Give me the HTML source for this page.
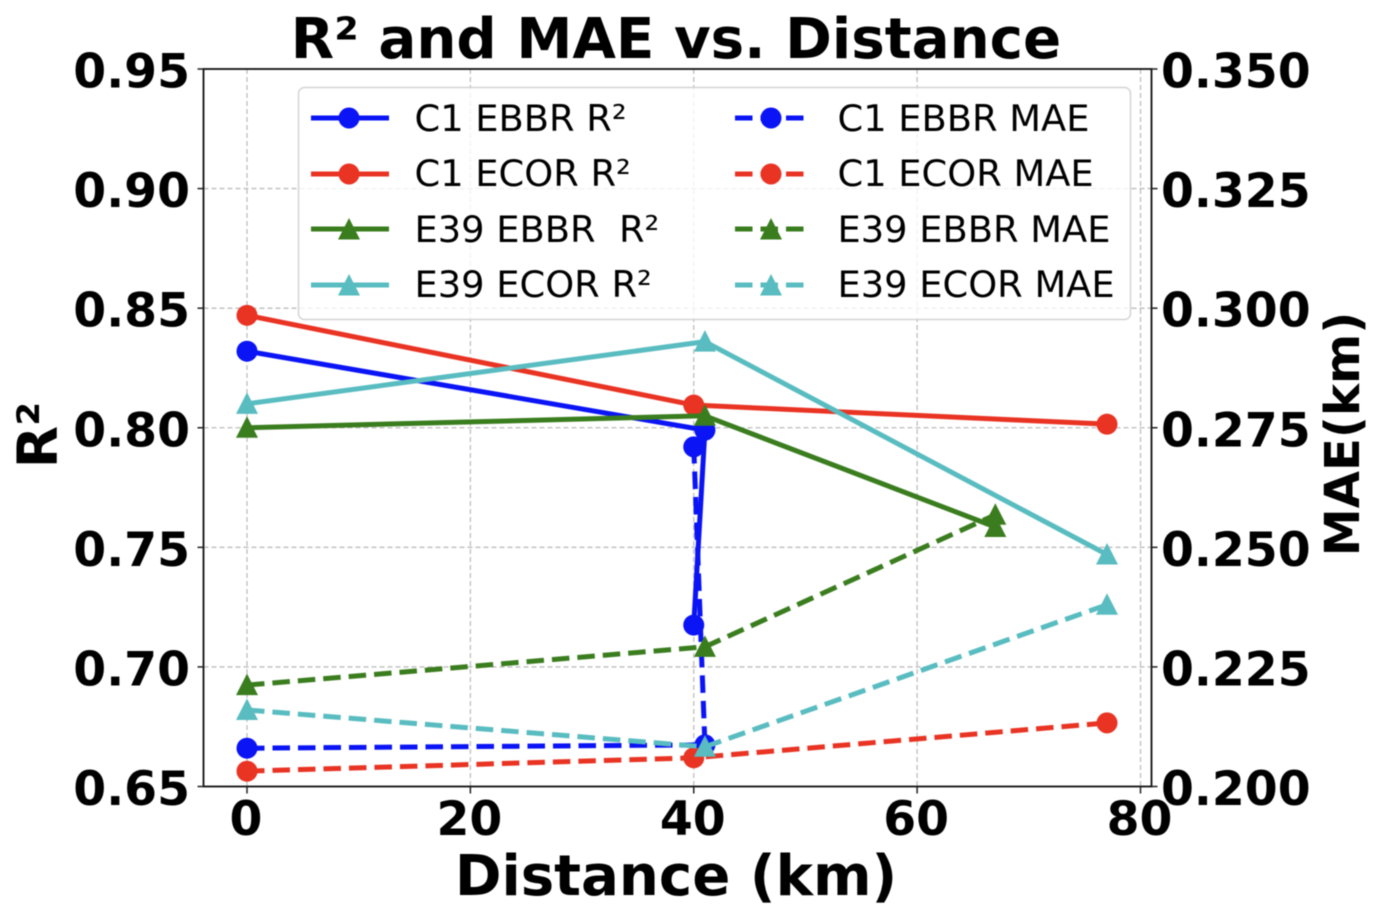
<!DOCTYPE html>
<html lang="en">
<head>
<meta charset="utf-8">
<title>R² and MAE vs. Distance</title>
<style>
html,body{margin:0;padding:0;background:#fff;width:1381px;height:919px;overflow:hidden}
svg{display:block;filter:blur(0.6px)}
text{font-family:"DejaVu Sans","Liberation Sans",sans-serif;fill:#000}
.b{font-weight:bold}
.lg{font-size:36.8px}
</style>
</head>
<body>
<svg id="chart" xmlns="http://www.w3.org/2000/svg" width="1381" height="919" viewBox="0 0 1381 919">
  <g id="grid"></g>
  <g id="marks"></g>
  <rect x="203.5" y="69" width="948" height="717.5" fill="none" stroke="#111" stroke-width="1.8"/>
  <g id="ticks"></g>
  <text class="b" x="676" y="58" font-size="56.3" text-anchor="middle">R² and MAE vs. Distance</text>
  <text class="b" x="676" y="895" font-size="56.2" text-anchor="middle">Distance (km)</text>
  <text class="b" transform="translate(57,435) rotate(-90)" font-size="55" text-anchor="middle">R²</text>
  <text class="b" transform="translate(1359,434) rotate(-90)" font-size="48.2" text-anchor="middle">MAE(km)</text>

  <g id="legend">
    <rect x="298.5" y="87.5" width="832" height="232" rx="6" fill="#fff" fill-opacity="0.8" stroke="#d4d4d4" stroke-width="1.5"/>
    <g>
      <line x1="311" x2="389" y1="118" y2="118" stroke="#0a14f5" stroke-width="5"/><circle cx="349" cy="118" r="10.5" fill="#0a14f5"/>
      <text class="lg" x="414.500" y="131">C1 EBBR R²</text>
    </g>
    <g>
      <line x1="311" x2="389" y1="174" y2="174" stroke="#e93323" stroke-width="5"/><circle cx="349" cy="174" r="10.5" fill="#e93323"/>
      <text class="lg" x="414.500" y="186">C1 ECOR R²</text>
    </g>
    <g>
      <line x1="311" x2="389" y1="229" y2="229" stroke="#3a7d1e" stroke-width="5"/><path d="M349 218L360 239.500H338Z" fill="#3a7d1e"/>
      <text class="lg" x="414.500" y="242" xml:space="preserve">E39 EBBR  R²</text>
    </g>
    <g>
      <line x1="311" x2="389" y1="285" y2="285" stroke="#58bcc0" stroke-width="5"/><path d="M349 274L360 295.500H338Z" fill="#58bcc0"/>
      <text class="lg" x="414.500" y="297">E39 ECOR R²</text>
    </g>
    <g>
      <line x1="735" x2="806" y1="118" y2="118" stroke="#0a14f5" stroke-width="5" stroke-dasharray="17.500 8"/><circle cx="771" cy="118" r="10.5" fill="#0a14f5"/>
      <text class="lg" x="837.500" y="131">C1 EBBR MAE</text>
    </g>
    <g>
      <line x1="735" x2="806" y1="174" y2="174" stroke="#e93323" stroke-width="5" stroke-dasharray="17.500 8"/><circle cx="771" cy="174" r="10.5" fill="#e93323"/>
      <text class="lg" x="837.500" y="186">C1 ECOR MAE</text>
    </g>
    <g>
      <line x1="735" x2="806" y1="229" y2="229" stroke="#3a7d1e" stroke-width="5" stroke-dasharray="17.500 8"/><path d="M771 218L782 239.500H760Z" fill="#3a7d1e"/>
      <text class="lg" x="837.500" y="242">E39 EBBR MAE</text>
    </g>
    <g>
      <line x1="735" x2="806" y1="285" y2="285" stroke="#58bcc0" stroke-width="5" stroke-dasharray="17.500 8"/><path d="M771 274L782 295.500H760Z" fill="#58bcc0"/>
      <text class="lg" x="837.500" y="297">E39 ECOR MAE</text>
    </g>
  </g>
</svg>
<script>
// Tick labels
const xTicks = [0, 20, 40, 60, 80];
const yLeftTicks = ['0.65', '0.70', '0.75', '0.80', '0.85', '0.90', '0.95'];
const yRightTicks = ['0.200', '0.225', '0.250', '0.275', '0.300', '0.325', '0.350'];

// Series: distance values
const c1EbbrDist = [0, 41, 40];
const c1EcorDist = [0, 40, 77];
const e39EbbrDist = [0, 41, 67];
const e39EcorDist = [0, 41, 77];

// Series: R² values
const c1EbbrR2 = [0.832, 0.799, 0.7175];
const c1EcorR2 = [0.847, 0.8095, 0.8015];
const e39EbbrR2 = [0.800, 0.805, 0.7585];
const e39EcorR2 = [0.810, 0.836, 0.747];

// Series: MAE values
const c1EbbrMae = [0.2080, 0.2087, 0.2710];
const c1EcorMae = [0.2032, 0.2060, 0.2133];
const e39EbbrMae = [0.2212, 0.2292, 0.2568];
const e39EcorMae = [0.2160, 0.2083, 0.2380];

const NS = 'http://www.w3.org/2000/svg';
const PLOT = { left: 203.5, right: 1151.5, top: 69, bottom: 786.5 };

function xScale(v) { return 247 + (v / 80) * (1140.5 - 247); }
function yLeft(v) { return PLOT.bottom - ((v - 0.65) / 0.30) * (PLOT.bottom - PLOT.top); }
function yRight(v) { return PLOT.bottom - ((v - 0.20) / 0.15) * (PLOT.bottom - PLOT.top); }

function make(tag, attrs, parent) {
  const el = document.createElementNS(NS, tag);
  for (const k in attrs) el.setAttribute(k, attrs[k]);
  parent.appendChild(el);
  return el;
}

const gridG = document.getElementById('grid');
const ticksG = document.getElementById('ticks');
const marksG = document.getElementById('marks');

xTicks.forEach(function (t) {
  const x = xScale(t);
  const g = make('line', { x1: x, x2: x, y1: PLOT.top, y2: PLOT.bottom, stroke: '#bdbdbd', 'stroke-width': 1.3, 'stroke-dasharray': '5 3' }, gridG);
  
  
  const tk = make('line', { x1: x, x2: x, y1: PLOT.bottom, y2: PLOT.bottom + 7, stroke: '#222', 'stroke-width': 1.5 }, ticksG);
  
  
  const lb = make('text', { x: x - 1, y: 835, 'font-size': 47.3, 'font-weight': 'bold', 'text-anchor': 'middle' }, ticksG);
  
  
  lb.textContent = t;
});

yLeftTicks.forEach(function (t) {
  const y = yLeft(parseFloat(t));
  const g = make('line', { x1: PLOT.left, x2: PLOT.right, y1: y, y2: y, stroke: '#bdbdbd', 'stroke-width': 1.3, 'stroke-dasharray': '5 3' }, gridG);
  
  
  const tk = make('line', { x1: PLOT.left - 6, x2: PLOT.left, y1: y, y2: y, stroke: '#222', 'stroke-width': 1.5 }, ticksG);
  
  
  const lb = make('text', { x: 190, y: y + 18.5, 'font-size': 47.3, 'font-weight': 'bold', 'text-anchor': 'end' }, ticksG);
  
  
  lb.textContent = t;
});

yRightTicks.forEach(function (t) {
  const y = yRight(parseFloat(t));
  const tk = make('line', { x1: PLOT.right, x2: PLOT.right + 6, y1: y, y2: y, stroke: '#222', 'stroke-width': 1.5 }, ticksG);
  
  
  const lb = make('text', { x: 1161, y: y + 18.5, 'font-size': 47.3, 'font-weight': 'bold', 'text-anchor': 'start' }, ticksG);
  
  
  lb.textContent = t;
});

function drawSeries(name, dist, vals, yFn, color, marker, dashed) {
  const g = make('g', {}, marksG);
  
  
  const pts = dist.map(function (d, i) { return [xScale(d), yFn(vals[i])]; });
  const attrs = {
    points: pts.map(function (p) { return p.join(','); }).join(' '),
    fill: 'none', stroke: color, 'stroke-width': 5, 'stroke-linejoin': 'round'
  };
  if (dashed) attrs['stroke-dasharray'] = '17.5 8';
  const line = make('polyline', attrs, g);
  
  
  pts.forEach(function (p) {
    let m;
    if (marker === 'circle') {
      m = make('circle', { cx: p[0], cy: p[1], r: 10.5, fill: color }, g);
    } else {
      m = make('path', { d: 'M' + p[0] + ' ' + (p[1] - 11.5) + 'L' + (p[0] + 11) + ' ' + (p[1] + 10) + 'H' + (p[0] - 11) + 'Z', fill: color }, g);
    }
    
    
  });
}

drawSeries('c1-ebbr-r2', c1EbbrDist, c1EbbrR2, yLeft, '#0a14f5', 'circle', false);
drawSeries('c1-ecor-r2', c1EcorDist, c1EcorR2, yLeft, '#e93323', 'circle', false);
drawSeries('e39-ebbr-r2', e39EbbrDist, e39EbbrR2, yLeft, '#3a7d1e', 'tri', false);
drawSeries('e39-ecor-r2', e39EcorDist, e39EcorR2, yLeft, '#58bcc0', 'tri', false);
drawSeries('c1-ebbr-mae', c1EbbrDist, c1EbbrMae, yRight, '#0a14f5', 'circle', true);
drawSeries('c1-ecor-mae', c1EcorDist, c1EcorMae, yRight, '#e93323', 'circle', true);
drawSeries('e39-ebbr-mae', e39EbbrDist, e39EbbrMae, yRight, '#3a7d1e', 'tri', true);
drawSeries('e39-ecor-mae', e39EcorDist, e39EcorMae, yRight, '#58bcc0', 'tri', true);
</script>
</body>
</html>
